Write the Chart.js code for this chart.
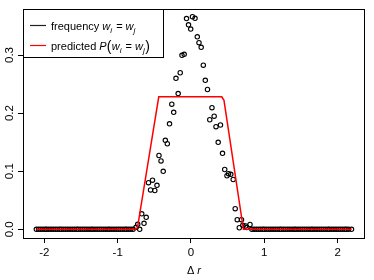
<!DOCTYPE html>
<html><head><meta charset="utf-8">
<script src="https://cdn.jsdelivr.net/npm/chart.js@4/dist/chart.umd.min.js"></script>
<style>html,body{margin:0;padding:0;background:#fff}canvas{display:block}</style>
</head><body>
<canvas id="c" width="374" height="280"></canvas>
<script>
const xTicks = [-2, -1, 0, 1, 2];
const yTicks = [0, 0.1, 0.2, 0.3];
const yTickLabels = ['0.0', '0.1', '0.2', '0.3'];

const freqX = [
 -2.11,-2.08,-2.05,-2.02,-1.99,-1.97,-1.94,-1.91,-1.88,-1.85,-1.82,-1.79,-1.77,-1.74,-1.71,-1.68,
 -1.65,-1.62,-1.59,-1.56,-1.54,-1.51,-1.48,-1.45,-1.42,-1.39,-1.36,-1.34,-1.31,-1.28,-1.25,-1.22,
 -1.19,-1.16,-1.13,-1.11,-1.08,-1.05,-1.02,-0.99,-0.96,-0.93,-0.90,-0.88,-0.85,-0.82,-0.79,
 -0.750,-0.727,-0.700,-0.672,-0.641,-0.611,-0.580,-0.552,-0.525,-0.494,-0.464,-0.437,-0.409,-0.379,
 -0.350,-0.323,-0.293,-0.262,-0.236,-0.205,-0.175,-0.147,-0.123,-0.093,-0.061,-0.034,-0.004,0.020,
 0.055,0.086,0.109,0.139,0.168,0.195,0.225,0.256,0.286,0.316,0.341,0.371,0.402,0.430,0.460,0.491,
 0.512,0.543,0.576,0.603,0.631,0.659,0.689,0.707,0.746,0.762,0.805,
 0.83,0.86,0.89,0.92,0.95,0.98,1.00,1.03,1.06,1.09,1.12,1.15,1.18,1.21,1.23,1.26,1.29,1.32,1.35,
 1.38,1.41,1.43,1.46,1.49,1.52,1.55,1.58,1.61,1.64,1.66,1.69,1.72,1.75,1.78,1.81,1.84,1.87,1.89,
 1.92,1.95,1.98,2.01,2.04,2.07,2.10,2.12,2.15,2.19
];
const freqY = [
 0,0,0,0,0,0,0,0,0,0,0,0,0,0,0,0,
 0,0,0,0,0,0,0,0,0,0,0,0,0,0,0,0,
 0,0,0,0,0,0,0,0,0,0,0,0,0,0,0,
 0.0034,0.0086,0.0000,0.0267,0.0103,0.0207,0.0802,0.0677,0.0846,0.0668,0.0757,0.1270,0.1177,0.0998,
 0.1532,0.1473,0.1816,0.2153,0.2014,0.2599,0.2337,0.2695,0.2995,0.3012,0.3628,0.3520,0.3446,0.3659,
 0.3632,0.3313,0.3212,0.3133,0.2825,0.2565,0.2406,0.1886,0.2093,0.1947,0.1766,0.1497,0.1795,0.1308,0.1029,0.0922,
 0.0957,0.0947,0.0857,0.0355,0.0165,0.0027,0.0165,0.0069,0.0057,0.0030,0.0083,
 0,0,0,0,0,0,0,0,0,0,0,0,0,0,0,0,0,0,0,
 0,0,0,0,0,0,0,0,0,0,0,0,0,0,0,0,0,0,0,
 0,0,0,0,0,0,0,0,0,0
];
const predX = [-2.11, -0.76, -0.73, -0.44, 0.42, 0.45, 0.715, 2.19];
const predY = [0, 0, 0.003, 0.228, 0.228, 0.222, 0, 0];

const FAM = '"Liberation Sans", Arial, Helvetica, sans-serif';
const F = '11px ' + FAM, FI = 'italic 11px ' + FAM, FS = 'italic 8px ' + FAM, FP = '14px ' + FAM;
const FT = '11.5px ' + FAM;

function rich(ctx, x, y, parts) {
  ctx.textAlign = 'left'; ctx.textBaseline = 'alphabetic';
  for (const p of parts) {
    ctx.font = p[1];
    ctx.fillText(p[0], x, y + (p[2] || 0));
    x += ctx.measureText(p[0]).width + (p[3] || 0);
  }
}

const decor = {
  id: 'decor',
  afterDraw(chart) {
    const ctx = chart.ctx, a = chart.chartArea;
    ctx.save();
    ctx.strokeStyle = '#000'; ctx.lineWidth = 1; ctx.fillStyle = '#000';
    ctx.strokeRect(Math.round(a.left) + 0.5, Math.round(a.top) + 0.5,
      Math.round(a.right - a.left) - 1, Math.round(a.bottom - a.top));
    // y tick labels, rotated like R
    const ys = chart.scales.y;
    ctx.font = FT; ctx.textAlign = 'center'; ctx.textBaseline = 'middle';
    yTicks.forEach((v, i) => {
      ctx.save();
      ctx.translate(10, ys.getPixelForValue(v));
      ctx.rotate(-Math.PI / 2);
      ctx.fillText(yTickLabels[i], 0, 0);
      ctx.restore();
    });
    // x axis title
    ctx.font = F; const w1 = ctx.measureText('\u0394 ').width;
    ctx.font = FI; const w2 = ctx.measureText('r').width;
    const cx = (a.left + a.right) / 2;
    rich(ctx, cx - (w1 + w2) / 2, 274, [['\u0394 ', F], ['r', FI]]);
    // legend
    const lx = Math.round(a.left) + 0.5, ly = Math.round(a.top) + 0.5;
    ctx.strokeStyle = '#000';
    ctx.strokeRect(lx, ly, 140, 48);
    ctx.lineWidth = 1.2;
    ctx.strokeStyle = '#222';
    ctx.beginPath(); ctx.moveTo(30, 25.5); ctx.lineTo(46, 25.5); ctx.stroke();
    ctx.strokeStyle = '#ff0000';
    ctx.beginPath(); ctx.moveTo(30, 45.5); ctx.lineTo(46, 45.5); ctx.stroke();
    ctx.fillStyle = '#000';
    rich(ctx, 51, 29.5, [['frequency ', F], ['w', FI], ['i', FS, 3, 1], [' = ', F], ['w', FI], ['j', FS, 3]]);
    rich(ctx, 51, 49.5, [['predicted ', F], ['P', FI], ['(', FP, 1, 0.5], ['w', FI], ['i', FS, 3, 1], [' = ', F], ['w', FI], ['j', FS, 3, 0.5], [')', FP, 1]]);
    ctx.restore();
  }
};

new Chart(document.getElementById('c'), {
  type: 'scatter',
  data: {
    datasets: [
      {
        label: 'predicted',
        data: predX.map((x, i) => ({ x, y: predY[i] })),
        showLine: true, borderColor: '#ff0000', borderWidth: 1.5,
        pointRadius: 0, fill: false, tension: 0, order: 0
      },
      {
        label: 'frequency',
        data: freqX.map((x, i) => ({ x, y: freqY[i] })),
        pointStyle: 'circle', pointRadius: 2.2, borderWidth: 1.1,
        borderColor: '#000', backgroundColor: 'rgba(0,0,0,0)', order: 1
      }
    ]
  },
  options: {
    responsive: false, animation: false, events: [],
    layout: { padding: { top: 9, right: 9, left: 0, bottom: 0 } },
    plugins: { legend: { display: false }, tooltip: { enabled: false } },
    scales: {
      x: {
        type: 'linear', min: -2.292, max: 2.374,
        afterBuildTicks: s => { s.ticks = xTicks.map(v => ({ value: v })); },
        afterFit: s => { s.height = 42; },
        grid: { display: true, drawOnChartArea: false, drawTicks: true, tickLength: 5, color: '#000', tickColor: '#000' },
        border: { display: false },
        ticks: { color: '#000', font: { family: FAM, size: 11.5 }, padding: 3, maxRotation: 0, autoSkip: false,
          callback: v => String(v) }
      },
      y: {
        type: 'linear', min: -0.01497, max: 0.3792,
        afterBuildTicks: s => { s.ticks = yTicks.map(v => ({ value: v })); },
        afterFit: s => { s.width = 23; },
        grid: { display: true, drawOnChartArea: false, drawTicks: true, tickLength: 5, color: '#000', tickColor: '#000' },
        border: { display: false },
        ticks: { display: false }
      }
    }
  },
  plugins: [decor]
});
</script>
</body></html>
